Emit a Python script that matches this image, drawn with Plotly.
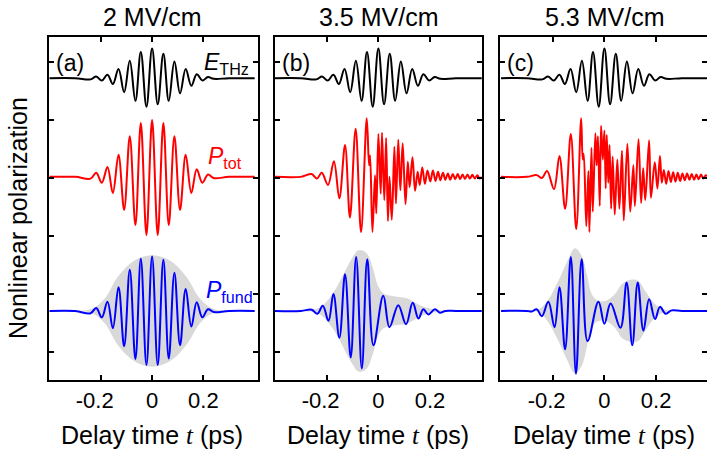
import plotly.graph_objects as go

# ---------------- data (extrema of each waveform, delay time in ps) ----------------
field_labels = ["2 MV/cm", "3.5 MV/cm", "5.3 MV/cm"]
panel_tags = ["(a)", "(b)", "(c)"]
x_tick_vals = [-0.2, 0, 0.2]
x_tick_text = ["-0.2\u00a0\u00a0", "0", "0.2"]

# THz driving field (same normalised pulse in every panel)
thz_t = [-0.40, -0.30, -0.240, -0.218, -0.196, -0.174, -0.153, -0.131, -0.109, -0.087,
         -0.065, -0.044, -0.022, 0.0, 0.022, 0.044, 0.065, 0.087, 0.109, 0.131, 0.153,
         0.174, 0.196, 0.218, 0.240, 0.30, 0.40]
thz_v = [0.0, 0.0, -0.02, 0.03, -0.04, 0.06, -0.10, 0.16, -0.24, 0.30, -0.39, 0.45,
         -0.49, 0.51, -0.45, 0.42, -0.39, 0.29, -0.26, 0.16, -0.13, 0.07, -0.04, 0.02,
         -0.01, 0.0, 0.0]

# total nonlinear polarization
ptot_a_t = [-0.40, -0.30, -0.240, -0.218, -0.196, -0.174, -0.153, -0.131, -0.109, -0.087,
            -0.065, -0.044, -0.022, 0.0, 0.022, 0.044, 0.065, 0.087, 0.109, 0.131, 0.153,
            0.174, 0.196, 0.218, 0.240, 0.30, 0.40]
ptot_a_v = [0.0, 0.0, -0.03, 0.07, -0.10, 0.17, -0.28, 0.38, -0.57, 0.70, -0.83, 0.93,
            -1.00, 0.98, -1.00, 0.93, -0.83, 0.70, -0.57, 0.38, -0.28, 0.13, -0.10, 0.04,
            -0.02, 0.0, 0.0]

ptot_b_t = [-0.40, -0.30, -0.258, -0.238, -0.219, -0.195, -0.172, -0.151, -0.129, -0.110,
            -0.088, -0.067, -0.045, -0.036, -0.032, -0.023, -0.013, -0.008, 0.000, 0.009,
            0.014, 0.023, 0.030, 0.037, 0.043, 0.052, 0.062, 0.068, 0.077, 0.085, 0.094,
            0.105, 0.114, 0.121, 0.132, 0.142, 0.152, 0.160, 0.170, 0.180, 0.190, 0.201,
            0.211, 0.221, 0.231, 0.240, 0.250, 0.259, 0.269, 0.278, 0.288, 0.297, 0.307,
            0.316, 0.326, 0.335, 0.345, 0.354, 0.364, 0.373, 0.383, 0.392, 0.400]
ptot_b_v = [0.0, 0.0, 0.05, -0.03, 0.07, -0.14, 0.27, -0.37, 0.55, -0.70, 0.83, -0.95,
            1.01, 0.20, 0.37, -0.95, 0.03, -0.63, 0.74, -0.29, 0.76, -0.40, 0.67, -0.76,
            0.0, -0.74, 0.52, -0.46, 0.64, -0.23, 0.58, -0.47, 0.26, -0.18, 0.34, -0.24,
            0.09, -0.14, 0.16, -0.12, 0.11, -0.08, 0.11, -0.07, 0.09, -0.06, 0.07, -0.05,
            0.06, -0.05, 0.05, -0.04, 0.05, -0.04, 0.04, -0.035, 0.04, -0.03, 0.035,
            -0.03, 0.03, -0.03, 0.0]

ptot_c_t = [-0.40, -0.30, -0.262, -0.242, -0.222, -0.195, -0.174, -0.152, -0.130, -0.109,
            -0.090, -0.084, -0.080, -0.070, -0.062, -0.058, -0.050, -0.045, -0.035, -0.030,
            -0.025, -0.018, -0.013, -0.006, 0.000, 0.005, 0.009, 0.015, 0.020, 0.026,
            0.032, 0.040, 0.050, 0.058, 0.068, 0.075, 0.089, 0.100, 0.112, 0.118, 0.132,
            0.142, 0.150, 0.158, 0.173, 0.180, 0.195, 0.205, 0.215, 0.222, 0.230, 0.239,
            0.248, 0.257, 0.266, 0.275, 0.284, 0.293, 0.302, 0.311, 0.320, 0.329, 0.338,
            0.347, 0.356, 0.365, 0.374, 0.383, 0.392, 0.400]
ptot_c_v = [0.0, 0.0, 0.03, -0.02, 0.10, -0.21, 0.36, -0.55, 0.74, -0.90, 1.01, 0.30,
            0.40, -0.85, 0.10, -0.95, 0.50, -0.60, 0.75, 0.20, 0.70, -0.50, 0.88, 0.30,
            0.80, -0.20, 0.72, -0.10, 0.55, -0.55, 0.35, -0.65, 0.30, -0.55, 0.45, -0.75,
            0.57, -0.60, 0.20, -0.50, 0.65, -0.45, 0.15, -0.40, 0.63, -0.36, 0.25, -0.20,
            0.36, -0.10, 0.12, -0.12, 0.10, -0.09, 0.08, -0.08, 0.07, -0.07, 0.06, -0.06,
            0.06, -0.05, 0.05, -0.05, 0.04, -0.04, 0.04, -0.03, 0.03, 0.0]

# fundamental-frequency component
pfund_a_t = [-0.40, -0.30, -0.240, -0.218, -0.196, -0.174, -0.153, -0.131, -0.109, -0.087,
             -0.065, -0.044, -0.022, 0.0, 0.022, 0.044, 0.065, 0.087, 0.109, 0.131, 0.153,
             0.174, 0.196, 0.218, 0.240, 0.30, 0.40]
pfund_a_v = [0.0, 0.0, -0.04, 0.05, -0.11, 0.16, -0.30, 0.41, -0.61, 0.71, -0.83, 0.90,
             -0.93, 0.94, -0.93, 0.88, -0.82, 0.66, -0.59, 0.38, -0.27, 0.15, -0.11, 0.03,
             -0.02, 0.0, 0.0]

pfund_b_t = [-0.40, -0.30, -0.258, -0.236, -0.215, -0.193, -0.174, -0.151, -0.129, -0.107,
             -0.086, -0.064, -0.043, -0.019, 0.019, 0.043, 0.077, 0.107, 0.133, 0.155,
             0.174, 0.193, 0.219, 0.238, 0.260, 0.30, 0.40]
pfund_b_v = [0.0, 0.0, 0.02, -0.05, 0.09, -0.17, 0.29, -0.46, 0.63, -0.80, 0.93, -0.99,
             0.89, -0.59, 0.26, -0.28, 0.10, -0.23, 0.14, -0.13, 0.03, -0.06, 0.03, -0.03,
             0.0, 0.0, 0.0]

pfund_c_t = [-0.40, -0.30, -0.281, -0.262, -0.242, -0.217, -0.193, -0.174, -0.152, -0.130,
             -0.110, -0.088, -0.065, -0.023, 0.000, 0.024, 0.062, 0.086, 0.108, 0.129,
             0.151, 0.173, 0.196, 0.215, 0.237, 0.260, 0.30, 0.40]
pfund_c_v = [0.0, 0.0, -0.01, 0.03, -0.09, 0.16, -0.28, 0.41, -0.66, 0.93, -1.08, 0.89,
             -0.52, 0.16, -0.22, 0.13, -0.29, 0.49, -0.59, 0.49, -0.34, 0.20, -0.14, 0.07,
             -0.05, 0.01, 0.0, 0.0]

# envelopes of the fundamental component
env_a_t = [-0.30, -0.26, -0.22, -0.18, -0.14, -0.09, -0.05, 0.0, 0.05, 0.09, 0.14, 0.18,
           0.22, 0.26, 0.30]
env_a_v = [0.0, 0.01, 0.07, 0.24, 0.55, 0.80, 0.91, 0.96, 0.91, 0.80, 0.55, 0.25, 0.08,
           0.01, 0.0]

env_b_t = [-0.30, -0.25, -0.22, -0.19, -0.16, -0.13, -0.10, -0.08, -0.06, -0.04, -0.02,
           0.00, 0.02, 0.05, 0.08, 0.11, 0.14, 0.17, 0.20, 0.24, 0.28]
env_b_v = [0.0, 0.02, 0.08, 0.22, 0.42, 0.68, 0.92, 1.04, 1.04, 0.96, 0.72, 0.42, 0.30,
           0.26, 0.24, 0.22, 0.15, 0.08, 0.04, 0.01, 0.0]

env_c_t = [-0.30, -0.255, -0.217, -0.178, -0.146, -0.114, -0.088, -0.068, -0.049, -0.030,
           0.003, 0.041, 0.067, 0.106, 0.131, 0.157, 0.183, 0.209, 0.235, 0.27]
env_c_v = [0.0, 0.02, 0.20, 0.52, 0.83, 1.08, 0.95, 0.63, 0.29, 0.19, 0.17, 0.29, 0.46,
           0.54, 0.52, 0.35, 0.18, 0.07, 0.02, 0.0]

# ---------------- layout constants ----------------
W, H = 707, 454
X_RANGES = [[-0.402, 0.413], [-0.400, 0.401], [-0.404, 0.397]]
X_DOMAINS = [[49 / W, 258 / W], [275 / W, 482 / W], [500 / W, 1.0]]
Y_RANGE = [-0.48, 5.43]
Y_DOMAIN = [(H - 380) / H, (H - 37) / H]
OFF_THZ, OFF_TOT, OFF_FUND = 4.72, 3.02, 0.71

BLACK, RED, BLUE, GREY = "#000000", "#ff0000", "#0000ff", "#d9d9d9"
FONT = "Arial, Liberation Sans, sans-serif"
LW = 2.0
TXT = 25

panels = [
    (ptot_a_t, ptot_a_v, pfund_a_t, pfund_a_v, env_a_t, env_a_v),
    (ptot_b_t, ptot_b_v, pfund_b_t, pfund_b_v, env_b_t, env_b_v),
    (ptot_c_t, ptot_c_v, pfund_c_t, pfund_c_v, env_c_t, env_c_v),
]

fig = go.Figure()


def shifted(vals, off):
    return [v + off for v in vals]


for i, (tt, tv, ft, fv, et, ev) in enumerate(panels):
    xa = "x" if i == 0 else f"x{i + 1}"
    ya = "y" if i == 0 else f"y{i + 1}"
    # grey envelope band around the fundamental component
    band_x = list(et) + list(reversed(et))
    band_y = [OFF_FUND + v for v in ev] + [OFF_FUND - v for v in reversed(ev)]
    fig.add_trace(go.Scatter(x=band_x, y=band_y, mode="lines", fill="toself",
                             fillcolor=GREY, line=dict(width=0, shape="spline", smoothing=1.0),
                             hoverinfo="skip", showlegend=False, xaxis=xa, yaxis=ya))
    fig.add_trace(go.Scatter(x=ft, y=shifted(fv, OFF_FUND), mode="lines",
                             line=dict(color=BLUE, width=LW, shape="spline", smoothing=1.1),
                             showlegend=False, xaxis=xa, yaxis=ya))
    fig.add_trace(go.Scatter(x=tt, y=shifted(tv, OFF_TOT), mode="lines",
                             line=dict(color=RED, width=LW, shape="spline", smoothing=1.0),
                             showlegend=False, xaxis=xa, yaxis=ya))
    fig.add_trace(go.Scatter(x=thz_t, y=shifted(thz_v, OFF_THZ), mode="lines",
                             line=dict(color=BLACK, width=LW, shape="spline", smoothing=1.1),
                             showlegend=False, xaxis=xa, yaxis=ya))

# empty trace so that the right-hand tick axis of panel (c) is drawn
fig.add_trace(go.Scatter(x=[], y=[], xaxis="x3", yaxis="y4", showlegend=False))

axis_common = dict(showline=True, linecolor=BLACK, linewidth=2, ticks="inside",
                   ticklen=5, tickwidth=1.5, tickcolor=BLACK, showgrid=False,
                   zeroline=False)

layout = dict(width=W, height=H, margin=dict(l=0, r=0, t=0, b=0),
              paper_bgcolor="white", plot_bgcolor="white",
              font=dict(family=FONT, color=BLACK))

for i in range(3):
    sx = "" if i == 0 else str(i + 1)
    layout[f"xaxis{sx}"] = dict(axis_common, domain=X_DOMAINS[i], range=X_RANGES[i],
                                anchor=f"y{sx}", mirror="ticks",
                                tickvals=x_tick_vals, ticktext=x_tick_text,
                                tickfont=dict(size=22, family=FONT))
    layout[f"yaxis{sx}"] = dict(axis_common, domain=Y_DOMAIN, range=Y_RANGE,
                                anchor=f"x{sx}", mirror="ticks" if i < 2 else False,
                                tickvals=[0, 1, 2, 3, 4, 5], showticklabels=False)

layout["yaxis4"] = dict(axis_common, overlaying="y3", side="right", anchor="x3",
                        range=Y_RANGE, showline=False,
                        tickvals=[0, 1, 2, 3, 4, 5], showticklabels=False)
fig.update_layout(**layout)

ann = []
for i in range(3):
    sx = "" if i == 0 else str(i + 1)
    ann.append(dict(text=field_labels[i], xref=f"x{sx}", yref="paper", x=0,
                    y=(H - 17) / H, xanchor="center", yanchor="middle", showarrow=False,
                    font=dict(size=TXT, family=FONT)))
    ann.append(dict(text="Delay time <i><span style='font-family:Liberation Serif, Times New Roman'>t</span></i> (ps)",
                    xref=f"x{sx}", yref="paper", x=0, y=(H - 435) / H,
                    xanchor="center", yanchor="middle", showarrow=False,
                    font=dict(size=TXT, family=FONT)))
    ann.append(dict(text=panel_tags[i], xref=f"x{sx}", yref=f"y{sx}",
                    x=X_RANGES[i][0] + 0.02, y=4.98, xanchor="left", yanchor="middle",
                    showarrow=False, font=dict(size=23, family=FONT)))

ann.append(dict(text="<i>E</i><sub>THz</sub>", xref="x", yref="y", x=0.29, y=4.98,
                xanchor="center", yanchor="middle", showarrow=False,
                font=dict(size=23, family=FONT, color=BLACK)))
ann.append(dict(text="<i>P</i><sub>tot</sub>", xref="x", yref="y", x=0.285, y=3.36,
                xanchor="center", yanchor="middle", showarrow=False,
                font=dict(size=23, family=FONT, color=RED)))
ann.append(dict(text="<i>P</i><sub>fund</sub>", xref="x", yref="y", x=0.30, y=1.05,
                xanchor="center", yanchor="middle", showarrow=False,
                font=dict(size=23, family=FONT, color=BLUE)))
ann.append(dict(text="Nonlinear polarization", xref="paper", yref="paper", x=18 / W,
                y=(H - 218) / H, xanchor="center", yanchor="middle", textangle=-90,
                showarrow=False, font=dict(size=TXT, family=FONT)))

fig.update_layout(annotations=ann)
fig.write_html("out.html")
